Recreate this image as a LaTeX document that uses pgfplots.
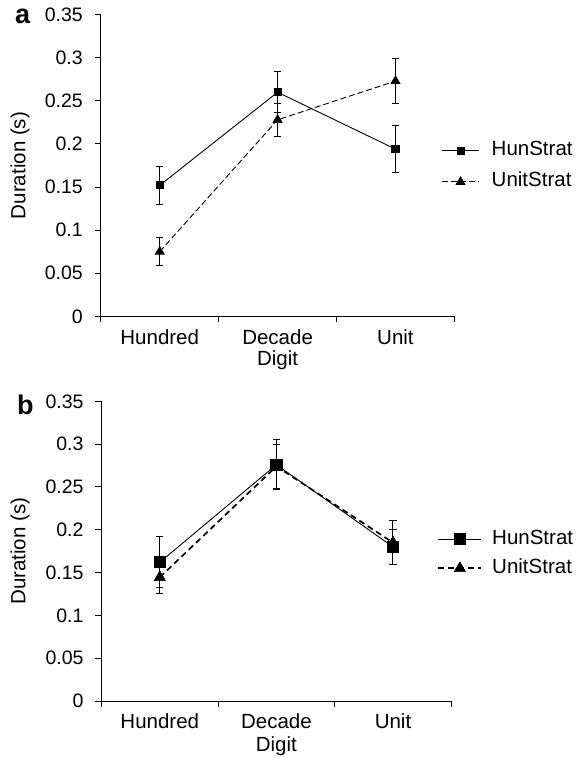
\documentclass[border=0pt]{standalone}
\usepackage{fontspec}
\setmainfont{Liberation Sans}
\usepackage{pgfplots}
\pgfplotsset{compat=1.18}
\begin{document}
\begin{tikzpicture}
\fontsize{20.5}{24}\selectfont
\path[use as bounding box] (0pt,0pt) rectangle (576pt,758pt);
\pgfplotsset{
  mystyle/.style={
    scale only axis,
    axis x line*=bottom, axis y line*=left,
    axis line style={line width=1pt,-,black},
    xmin=-0.5, xmax=2.5, ymin=0, ymax=0.35,
    xtick={-0.5,0.5,1.5,2.5},
    xticklabels={Hundred,Decade,Unit},
    x tick label as interval,
    ytick={0,0.05,0.1,0.15,0.2,0.25,0.3,0.35},
    yticklabels={0,0.05,0.1,0.15,0.2,0.25,0.3,0.35},
    yticklabel style={font=\fontsize{19.5}{23}\selectfont, xshift=-5pt},
    tick align=outside, major tick length=6pt,
    tick style={line width=1pt,black},
    /pgf/number format/assume math mode=true,
    xlabel={Digit}, ylabel={Duration (s)},
    legend cell align=left,
    clip=false,
  },
  errstyle/.style={
    error bars/.cd, y dir=both, y explicit,
    error bar style={line width=1pt,black,solid},
    error mark options={rotate=90,mark size=3.6pt,line width=1pt,black,solid},
  },
}
% ---------------- panel a ----------------
\begin{axis}[mystyle,
  at={(100.8pt,441.7pt)}, anchor=south west,
  width=353.6pt, height=301.6pt,
  xlabel style={at={(rel axis cs:0.5,-0.145)}, anchor=center},
  ylabel style={at={(rel axis cs:-0.2285,0.5)}, anchor=center},
  legend style={at={(rel axis cs:0.963,0.497)}, anchor=west, draw=none, fill=none,
    inner sep=0pt, row sep=13pt, column sep=12pt,
    nodes={inner sep=0pt, text height=14pt, text depth=4pt}},
  legend image code/.code={\draw[mark repeat=2,mark phase=2,#1] plot coordinates {(0pt,0pt) (18.6pt,0pt) (37.3pt,0pt)};},
]
\addplot+[black, solid, line width=0.9pt, mark=square*, mark size=3.6pt,
  mark options={solid,fill=black}, errstyle]
  table[x=x,y=y,y error=e] {
x y e
0 0.152 0.022
1 0.260 0.0235
2 0.194 0.027
};
\addlegendentry{HunStrat}
\addplot+[black, line width=0.9pt, dash pattern=on 6pt off 3pt, mark=triangle*, mark size=5pt,
  mark options={solid,fill=black}, errstyle]
  table[x=x,y=y,y error=e] {
x y e
0 0.075 0.0165
1 0.228 0.0195
2 0.273 0.0265
};
\addlegendentry{UnitStrat}
\end{axis}
% ---------------- panel b ----------------
\begin{axis}[mystyle,
  at={(101.5pt,57pt)}, anchor=south west,
  width=349.8pt, height=299.7pt,
  xlabel style={at={(rel axis cs:0.5,-0.150)}, anchor=center},
  ylabel style={at={(rel axis cs:-0.233,0.5)}, anchor=center},
  reverse legend,
  legend style={at={(rel axis cs:0.96,0.491)}, anchor=west, draw=none, fill=none,
    inner sep=0pt, row sep=11pt, column sep=10pt,
    nodes={inner sep=0pt, text height=14pt, text depth=4pt}},
  legend image code/.code={\draw[mark repeat=2,mark phase=2,#1] plot coordinates {(0pt,0pt) (21.5pt,0pt) (43pt,0pt)};},
]
\addplot+[black, line width=1.7pt, dash pattern=on 6pt off 4pt, mark=triangle*, mark size=6.5pt,
  mark options={solid,fill=black,line width=0.5pt}, errstyle]
  table[x=x,y=y,y error=e] {
x y e
0 0.1445 0.019
1 0.274 0.026
2 0.185 0.026
};
\addlegendentry{UnitStrat}
\addplot+[black, solid, line width=0.9pt, mark=square*, mark size=5.6pt,
  mark options={solid,fill=black}, errstyle]
  table[x=x,y=y,y error=e] {
x y e
0 0.162 0.030
1 0.276 0.029
2 0.180 0.0205
};
\addlegendentry{HunStrat}
\end{axis}
\node[anchor=base west, font=\fontsize{27}{30}\selectfont\bfseries] at (8pt,734pt) {a};
\node[anchor=base west, font=\fontsize{27}{30}\selectfont\bfseries] at (10pt,343pt) {b};
\end{tikzpicture}
\end{document}
